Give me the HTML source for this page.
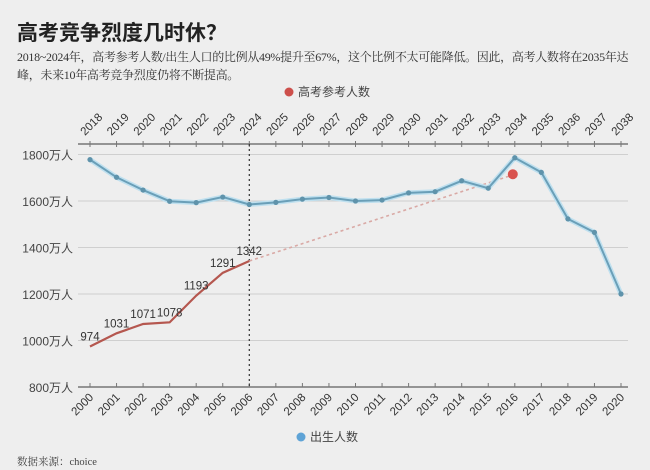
<!DOCTYPE html>
<html><head><meta charset="utf-8"><style>
body{margin:0;width:650px;height:470px;background:#eeeeee;overflow:hidden;font-family:"Liberation Sans","Noto Sans CJK SC",sans-serif}
#t{position:absolute;left:17px;top:17px;font-size:21px;font-weight:bold;color:#222}
#s{position:absolute;left:17px;top:48px;width:632px;font-size:12px;letter-spacing:-0.3px;line-height:18px;color:#333;font-family:"Liberation Serif","Noto Serif CJK SC",serif}
svg{position:absolute;left:0;top:0}
</style></head><body>
<div id="t">高考竞争烈度几时休？</div>
<div id="s">2018~2024年，高考参考人数/出生人口的比例从49%提升至67%，这个比例不太可能降低。因此，高考人数将在2035年达峰，未来10年高考竞争烈度仍将不断提高。</div>
<svg id="c" width="650" height="470"></svg>
<div style="position:absolute;left:17px;top:454px;font-size:10.5px;color:#444;font-family:'Liberation Serif','Noto Serif CJK SC',serif">数据来源：choice</div>
<script>
const birthYears=[2000,2001,2002,2003,2004,2005,2006,2007,2008,2009,2010,2011,2012,2013,2014,2015,2016,2017,2018,2019,2020];
const examYears=[2018,2019,2020,2021,2022,2023,2024,2025,2026,2027,2028,2029,2030,2031,2032,2033,2034,2035,2036,2037,2038];
const births=[1778,1702,1647,1599,1593,1617,1585,1594,1608,1615,1600,1604,1635,1640,1687,1655,1786,1723,1523,1465,1200];
const exams=[974,1031,1071,1078,1193,1291,1342];
const examLabels=["974","1031","1071","1078","1193","1291","1342"];
const forecastIndex=16, forecastValue=1715;
const yTicks=[800,1000,1200,1400,1600,1800];
const NS="http://www.w3.org/2000/svg",svg=document.getElementById('c');
const x=i=>90+i*26.55, y=v=>387-(v-800)*0.2325;
function mk(t,a,p){const e=document.createElementNS(NS,t);for(const k in a)e.setAttribute(k,a[k]);(p||svg).appendChild(e);return e;}
yTicks.forEach(v=>{
 if(v>800){const g=mk('line',{x1:78,x2:628,y1:y(v),y2:y(v),stroke:'#cfcfcf','stroke-width':1});
 
 }
 const t=mk('text',{x:73,y:y(v)+5,'text-anchor':'end','font-size':12,fill:'#444'});t.textContent=v+'万人';
 
 
});
const bx=mk('line',{x1:78,x2:628,y1:387,y2:387,stroke:'#777','stroke-width':1.5});


const tx=mk('line',{x1:78,x2:628,y1:144,y2:144,stroke:'#777','stroke-width':1.5});


birthYears.forEach((yr,i)=>{
 mk('line',{x1:x(i),x2:x(i),y1:383,y2:387,stroke:'#777'});
 const t=mk('text',{transform:`translate(${x(i)+4},${398}) rotate(-45)`,'text-anchor':'end','font-size':11.5,fill:'#333'});t.textContent=yr;
 
 
});
examYears.forEach((yr,i)=>{
 mk('line',{x1:x(i),x2:x(i),y1:141,y2:147,stroke:'#777'});
 const t=mk('text',{transform:`translate(${x(i)-5},${136}) rotate(-45)`,'text-anchor':'start','font-size':11.5,fill:'#333'});t.textContent=yr;
 
 
});
const vl=mk('line',{x1:x(6),x2:x(6),y1:144,y2:387,stroke:'#333','stroke-width':1.2,'stroke-dasharray':'2,3'});


const fc=mk('line',{x1:x(6),y1:y(exams[6]),x2:x(forecastIndex),y2:y(forecastValue),stroke:'#d9a9a5','stroke-width':1.6,'stroke-dasharray':'3,3'});


const bp=mk('polyline',{points:births.map((v,i)=>x(i)+','+y(v)).join(' '),fill:'none',stroke:'#bfe0ef','stroke-width':5});


const bl=mk('polyline',{points:births.map((v,i)=>x(i)+','+y(v)).join(' '),fill:'none',stroke:'#6a9fb8','stroke-width':2});


births.forEach((v,i)=>{const c=mk('circle',{cx:x(i),cy:y(v),r:2.6,fill:'#5f93ab'});
 
 });
const el=mk('polyline',{points:exams.map((v,i)=>x(i)+','+y(v)).join(' '),fill:'none',stroke:'#b5574f','stroke-width':2.2});


exams.forEach((v,i)=>{const t=mk('text',{x:x(i),y:y(v)-6,'text-anchor':'middle','font-size':11.5,fill:'#333'});t.textContent=examLabels[i];
 
 });
const fd=mk('circle',{cx:x(forecastIndex)-2,cy:y(forecastValue),r:5,fill:'#d9534f'});


const l1=mk('circle',{cx:289,cy:92,r:4.5,fill:'#cd4f4b'});


const lt1=mk('text',{x:298,y:96,'font-size':12,fill:'#444'});lt1.textContent='高考参考人数';


const l2=mk('circle',{cx:301,cy:437,r:4.5,fill:'#5ea3d6'});


const lt2=mk('text',{x:310,y:441,'font-size':12,fill:'#444'});lt2.textContent='出生人数';


</script>
</body></html>
